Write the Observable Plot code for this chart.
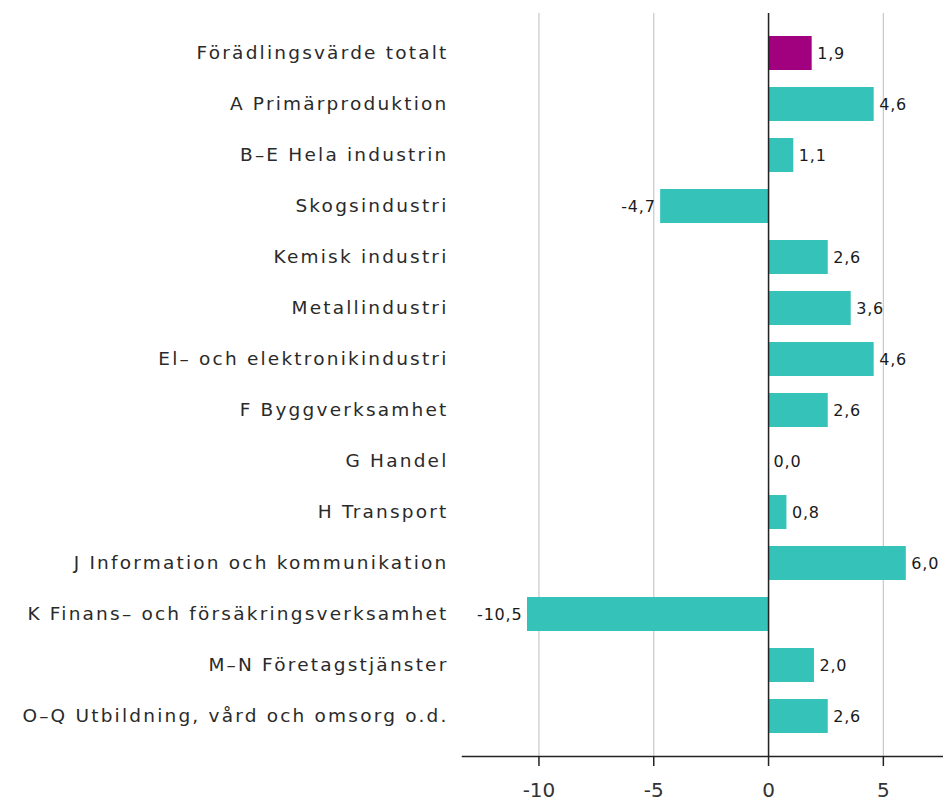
<!DOCTYPE html>
<html>
<head>
<meta charset="utf-8">
<script src="https://cdn.jsdelivr.net/npm/d3@7"></script>
<script src="https://cdn.jsdelivr.net/npm/@observablehq/plot@0.6"></script>
<style>
  html, body { margin: 0; padding: 0; background: #fff; }
  #chart svg { font-family: "DejaVu Sans", sans-serif; overflow: visible; }
  #chart svg [aria-label="y-axis tick label"] text { letter-spacing: 2.2px; }
  #chart svg [aria-label="text"] text { letter-spacing: 0.8px; }
</style>
</head>
<body>
<div id="chart"></div>
<script>
const categories = [
  "Förädlingsvärde totalt",
  "A Primärproduktion",
  "B–E Hela industrin",
  "Skogsindustri",
  "Kemisk industri",
  "Metallindustri",
  "El– och elektronikindustri",
  "F Byggverksamhet",
  "G Handel",
  "H Transport",
  "J Information och kommunikation",
  "K Finans– och försäkringsverksamhet",
  "M–N Företagstjänster",
  "O–Q Utbildning, vård och omsorg o.d."
];
const values = [1.9, 4.6, 1.1, -4.7, 2.6, 3.6, 4.6, 2.6, 0.0, 0.8, 6.0, -10.5, 2.0, 2.6];
const groups = ["total", "branch", "branch", "branch", "branch", "branch", "branch", "branch", "branch", "branch", "branch", "branch", "branch", "branch"];
const xTicks = [-10, -5, 0, 5];

const data = categories.map((c, i) => ({category: c, value: values[i], group: groups[i]}));
const fmt = v => v.toFixed(1).replace(".", ",");

const chart = Plot.plot({
  width: 943,
  height: 801,
  marginLeft: 462,
  marginRight: 0,
  marginTop: 13,
  marginBottom: 45,
  insetTop: 2,
  insetBottom: 2,
  x: {domain: [-13.33, 7.62], ticks: xTicks},
  y: {domain: categories, padding: 0.33},
  color: {domain: ["total", "branch"], range: ["#a1007e", "#35c2b9"]},
  marks: [
    Plot.gridX(xTicks, {stroke: "#c8c8c8", strokeOpacity: 1, strokeWidth: 1.2}),
    Plot.barX(data, {x: "value", y: "category", fill: "group"}),
    Plot.ruleX([0], {stroke: "#222", strokeWidth: 1.5}),
    Plot.frame({anchor: "bottom", stroke: "#222", strokeWidth: 1.5}),
    Plot.axisX(xTicks, {tickSize: 10, tickPadding: 16, fontSize: 20, fill: "#333", stroke: "#222", strokeWidth: 1.5, tickFormat: d => String(d), label: null}),
    Plot.axisY({tickSize: 0, tickPadding: 14, fontSize: 18.5, fill: "#2a2a2a", label: null}),
    Plot.text(data.filter(d => d.value >= 0), {
      x: "value", y: "category",
      text: d => fmt(d.value),
      textAnchor: "start", dx: 5,
      fontSize: 16, fill: "#1a1a1a"
    }),
    Plot.text(data.filter(d => d.value < 0), {
      x: "value", y: "category",
      text: d => fmt(d.value),
      textAnchor: "end", dx: -5,
      fontSize: 16, fill: "#1a1a1a"
    })
  ]
});
document.getElementById("chart").appendChild(chart);
</script>
</body>
</html>
